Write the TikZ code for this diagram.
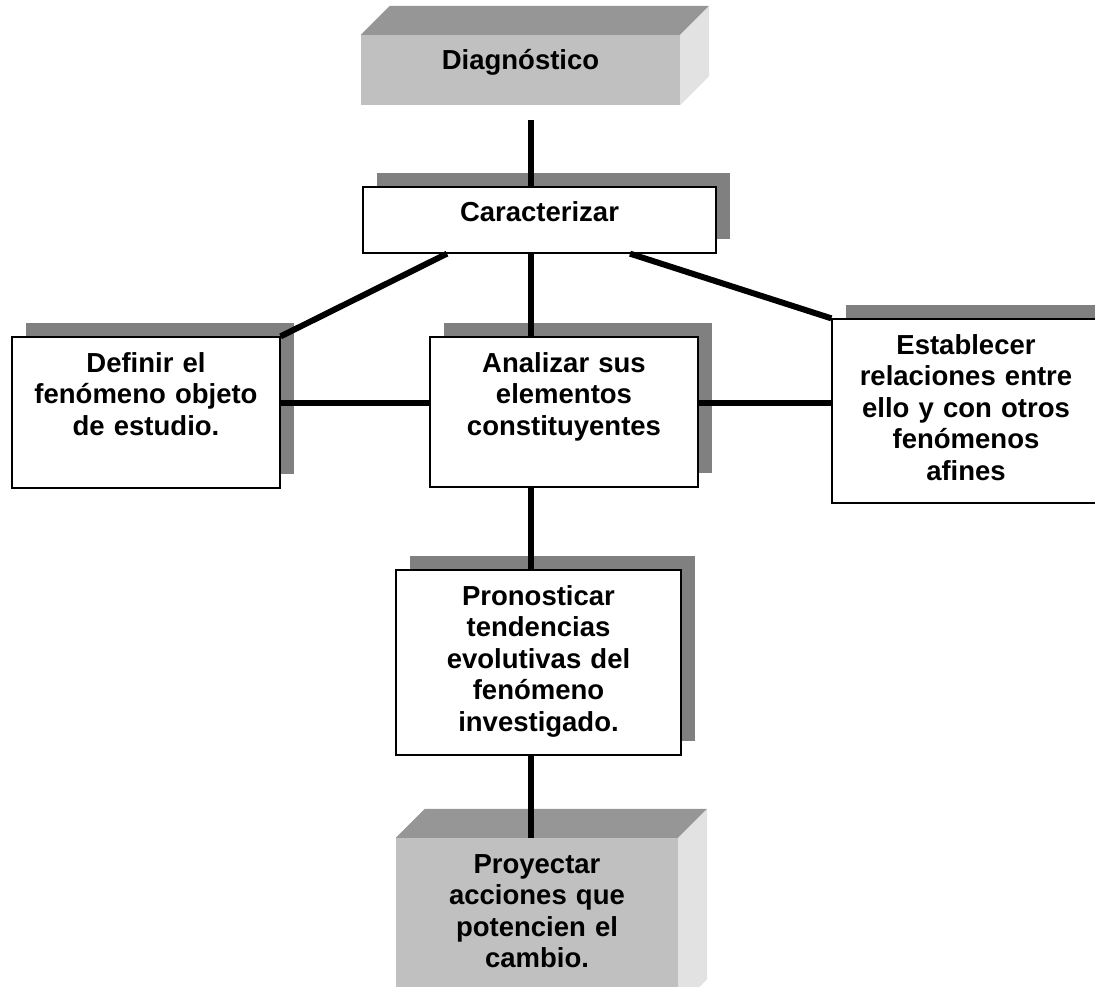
\documentclass[tikz,border=0pt]{standalone}
\usepackage{fontspec}
\setmainfont{Liberation Sans}
\usepackage{tikz}
\usetikzlibrary{calc,shadows}
\definecolor{facegray}{HTML}{C0C0C0}
\definecolor{topgray}{HTML}{969696}
\definecolor{sidegray}{HTML}{E2E2E2}
\definecolor{shadowgray}{HTML}{808080}

\begin{document}
\begin{tikzpicture}[x=1pt, y=-1pt,
  every node/.style={inner sep=0pt, align=center, text height=35pt,
    font=\fontsize{27.5}{31.6}\selectfont\bfseries},
  stepbox/.style={draw=black, line width=1.3pt, fill=white,
    drop shadow={shadow xshift=14pt, shadow yshift=14pt, fill=shadowgray, opacity=1}},
  blockbox/.style={fill=facegray},
  link/.style={line width=6pt}]

  \useasboundingbox (0,0) rectangle (1095,987);
  \clip (0,0) rectangle (1095,987);

  % Define coordinates for nodes
  \coordinate (axis) at (531,403);
  \node[blockbox, text width=319pt, text depth=35pt] (diag) at (520.5,70) {Diagnóstico};
  \node[stepbox, text width=353pt, text depth=31pt] (cara) at (539.5,220) {Caracterizar};
  \node[stepbox, text width=268pt, text depth=116pt] (defin) at (146,412.5) {Definir el\\fenómeno objeto\\de estudio.};
  \node[stepbox, text width=268pt, text depth=115pt] (anal) at (564,412) {Analizar sus\\elementos\\constituyentes};
  \node[stepbox, text width=268pt, text depth=149pt] (estab) at (966,411) {Establecer\\relaciones entre\\ello y con otros\\fenómenos\\afines};
  \node[stepbox, text width=285pt, text depth=150pt] (prono) at (538.5,662.5) {Pronosticar\\tendencias\\evolutivas del\\fenómeno\\investigado.};
  \node[blockbox, text width=282pt, text depth=135pt] (proye) at (537,923) {Proyectar\\acciones que\\potencien el\\cambio.};

  % Faces of the two blocks
  \foreach \blk in {diag, proye} {
    \fill[topgray] (\blk.north west) -- ++(29,-29) -- ([shift={(29,-29)}]\blk.north east) -- (\blk.north east) -- cycle;
    \fill[sidegray] (\blk.north east) -- ++(29,-29) -- ([shift={(29,-29)}]\blk.south east) -- (\blk.south east) -- cycle;
  }

  % Draw lines between nodes
  \draw[link] ($(diag.south -| axis)+(0,15)$) -- (cara.north -| axis);
  \draw[link] (cara.south -| axis) -- (anal.north -| axis);
  \draw[link] ([xshift=-92.5pt]cara.south) -- (defin.north east);
  \draw[link] ([xshift=90.5pt]cara.south) -- (estab.north west);
  \draw[link] (defin.east |- axis) -- (anal.west |- axis);
  \draw[link] (anal.east |- axis) -- (estab.west |- axis);
  \draw[link] (anal.south -| axis) -- (prono.north -| axis);
  \draw[link] (prono.south -| axis) -- (proye.north -| axis);
\end{tikzpicture}
\end{document}
